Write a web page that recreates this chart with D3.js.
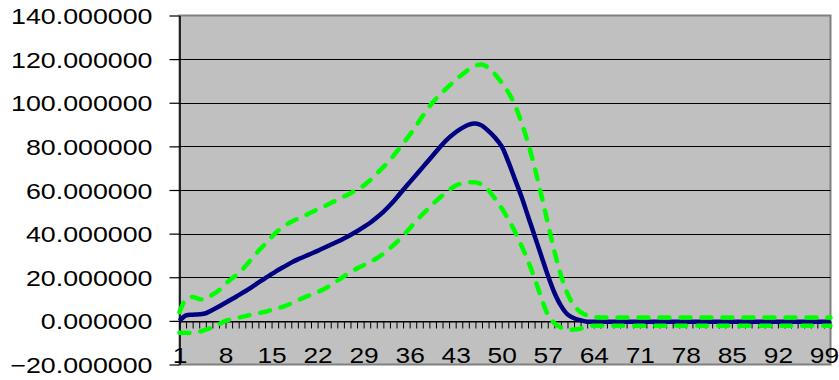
<!DOCTYPE html>
<html lang="en">
<head>
  <meta charset="UTF-8">
  <title>Line Chart with Bands</title>
  <style>
    body { margin: 0; background: #fff; }
    svg text { font-family: "Liberation Sans", Arial, sans-serif; font-size: 22.5px; fill: #000; }
  </style>
</head>
<body>
  <div id="chart"></div>

  <script src="https://d3js.org/d3.v7.min.js"></script>
  <script>
    const SVGWIDTH = 839;
    const SVGHEIGHT = 380;

    // categories 1..100
    const categories = d3.range(1, 101);
    const xLabels = [1, 8, 15, 22, 29, 36, 43, 50, 57, 64, 71, 78, 85, 92, 99];
    const yTicks = [-20, 0, 20, 40, 60, 80, 100, 120, 140];

    const mean = [
      0, 2.5, 2.8, 3, 3.5, 5, 6.6, 8.3, 10, 11.8,
      13.6, 15.5, 17.5, 19.5, 21.4, 23.3, 25, 26.7, 28.2, 29.5,
      30.8, 32.1, 33.5, 34.9, 36.3, 37.8, 39.4, 41.1, 43, 45,
      47.4, 50, 53, 56.4, 60, 63.5, 67, 70.5, 74, 77.5,
      81, 84, 86.5, 88.5, 90, 90.5, 89.5, 87, 84, 80,
      73, 65, 57, 48, 39, 30, 21, 13, 7, 3,
      1.2, 0.3, -0.4, -0.4, -0.4, -0.4, -0.4, -0.4, -0.4, -0.4,
      -0.4, -0.4, -0.4, -0.4, -0.4, -0.4, -0.4, -0.4, -0.4, -0.4,
      -0.4, -0.4, -0.4, -0.4, -0.4, -0.4, -0.4, -0.4, -0.4, -0.4,
      -0.4, -0.4, -0.4, -0.4, -0.4, -0.4, -0.4, -0.4, -0.4, -0.4
    ];
    const upper = [
      4, 10, 11, 10, 10, 12, 14, 17, 19.5, 21.8,
      25, 28.5, 32, 35.2, 38.5, 41.3, 43.6, 45.4, 46.9, 48.2,
      49.7, 51.1, 52.5, 54, 55.5, 57, 58.5, 60.1, 62, 64.5,
      67.5, 70.5, 73.7, 77.5, 81.3, 85.2, 89.5, 94, 98.3, 101.8,
      104.8, 107.7, 110.5, 113, 115.3, 117, 117.5, 116, 113, 109.2,
      104.8, 99, 91, 81.5, 70.5, 58, 45, 32, 21, 12.5,
      7, 4, 2.5, 1.8, 1.6, 1.6, 1.6, 1.6, 1.6, 1.6,
      1.6, 1.6, 1.6, 1.6, 1.6, 1.6, 1.6, 1.6, 1.6, 1.6,
      1.6, 1.6, 1.6, 1.6, 1.6, 1.6, 1.6, 1.6, 1.6, 1.6,
      1.6, 1.6, 1.6, 1.6, 1.6, 1.6, 1.6, 1.6, 1.6, 1.6
    ];
    const lower = [
      -5.5, -5.5, -5.5, -5, -4, -3, -1.5, 0, 0.8, 1.5,
      2.2, 2.9, 3.5, 4.2, 5, 5.8, 6.8, 8, 9.4, 10.8,
      12, 13.2, 14.6, 16.4, 18.4, 20.4, 22.3, 24, 25.5, 27,
      28.7, 30.8, 33.3, 36, 39, 42.4, 45.8, 49, 52, 54.9,
      57.5, 60, 62, 63, 63.5, 63.5, 62.5, 59.8, 56, 51.6,
      46.6, 41, 34.5, 27.5, 19.5, 10.8, 3, -1, -3, -4,
      -4, -3.5, -2.5, -2.2, -2.2, -2.2, -2.2, -2.2, -2.2, -2.2,
      -2.2, -2.2, -2.2, -2.2, -2.2, -2.2, -2.2, -2.2, -2.2, -2.2,
      -2.2, -2.2, -2.2, -2.2, -2.2, -2.2, -2.2, -2.2, -2.2, -2.2,
      -2.2, -2.2, -2.2, -2.2, -2.2, -2.2, -2.2, -2.2, -2.2, -2.2
    ];

    const plot = {left: 179.5, right: 830.5, top: 15.5, bottom: 364.5};

    const xScale = d3.scaleLinear()
      .domain([1, 100])
      .range([plot.left, plot.right]);
    const yScale = d3.scaleLinear()
      .domain([-20, 140])
      .range([plot.bottom, plot.top]);

    const svg = d3.select('#chart')
      .append('svg')
      .attr('width', SVGWIDTH)
      .attr('height', SVGHEIGHT);

    // plot area
    svg.append('rect')
      .attr('x', plot.left)
      .attr('y', plot.top)
      .attr('width', plot.right - plot.left)
      .attr('height', plot.bottom - plot.top)
      .attr('fill', '#c0c0c0')
      .attr('stroke', '#808080')
      .attr('stroke-width', 2);

    // horizontal grid lines
    svg.append('g').selectAll('line')
      .data(yTicks.filter(d => d > -20 && d < 140))
      .enter()
      .append('line')
      .attr('x1', plot.left)
      .attr('x2', plot.right)
      .attr('y1', d => Math.round(yScale(d)) + 0.5)
      .attr('y2', d => Math.round(yScale(d)) + 0.5)
      .attr('stroke', '#000')
      .attr('stroke-width', 1.2);

    // y axis
    const yAxis = d3.axisLeft(yScale)
      .tickValues(yTicks)
      .tickSize(10)
      .tickSizeOuter(0)
      .tickFormat(d3.format('.6f'));
    const yAxisCont = svg.append('g')
      .attr('transform', `translate(${plot.left},0)`)
      .call(yAxis);
    yAxisCont.select('.domain').attr('stroke', '#000').attr('stroke-width', 1.5);
    yAxisCont.selectAll('.tick line').attr('stroke', '#000').attr('stroke-width', 1.2);
    yAxisCont.selectAll('.tick text')
      .attr('x', null)
      .attr('dy', '0.36em')
      .attr('text-anchor', 'end')
      .attr('transform', 'translate(-27,0) scale(1.19,1)')
      .style('font-size', '22.5px')
      .style('font-family', '"Liberation Sans", Arial, sans-serif');

    // x axis at y = 0
    const xAxis = d3.axisBottom(xScale)
      .tickValues(categories)
      .tickSize(7)
      .tickSizeOuter(0)
      .tickFormat(d => xLabels.includes(d) ? d : '');
    const xAxisCont = svg.append('g')
      .attr('transform', `translate(0,${Math.round(yScale(0)) + 0.5})`)
      .call(xAxis);
    xAxisCont.select('.domain').attr('stroke', '#000').attr('stroke-width', 1.2);
    xAxisCont.selectAll('.tick line').attr('stroke', '#000').attr('stroke-width', 1);
    xAxisCont.selectAll('.tick text')
      .attr('y', null)
      .attr('dy', null)
      .attr('text-anchor', 'middle')
      .attr('transform', 'translate(0,41) scale(1.17,1)')
      .style('font-size', '22.5px')
      .style('font-family', '"Liberation Sans", Arial, sans-serif');

    const line = d3.line()
      .x((d, i) => xScale(categories[i]))
      .y(d => yScale(d))
      .curve(d3.curveCatmullRom.alpha(0.5));

    const chartArea = svg.append('g');

    chartArea.append('path')
      .datum(mean)
      .attr('d', line)
      .attr('fill', 'none')
      .attr('stroke', '#000080')
      .attr('stroke-width', 4.5)
      .attr('stroke-linejoin', 'round');

    chartArea.selectAll('.band')
      .data([upper, lower])
      .enter()
      .append('path')
      .attr('class', 'band')
      .attr('d', line)
      .attr('fill', 'none')
      .attr('stroke', '#00ff00')
      .attr('stroke-width', 4.5)
      .attr('stroke-linecap', 'round')
      .attr('stroke-dasharray', '10,11');
  </script>
</body>
</html>
